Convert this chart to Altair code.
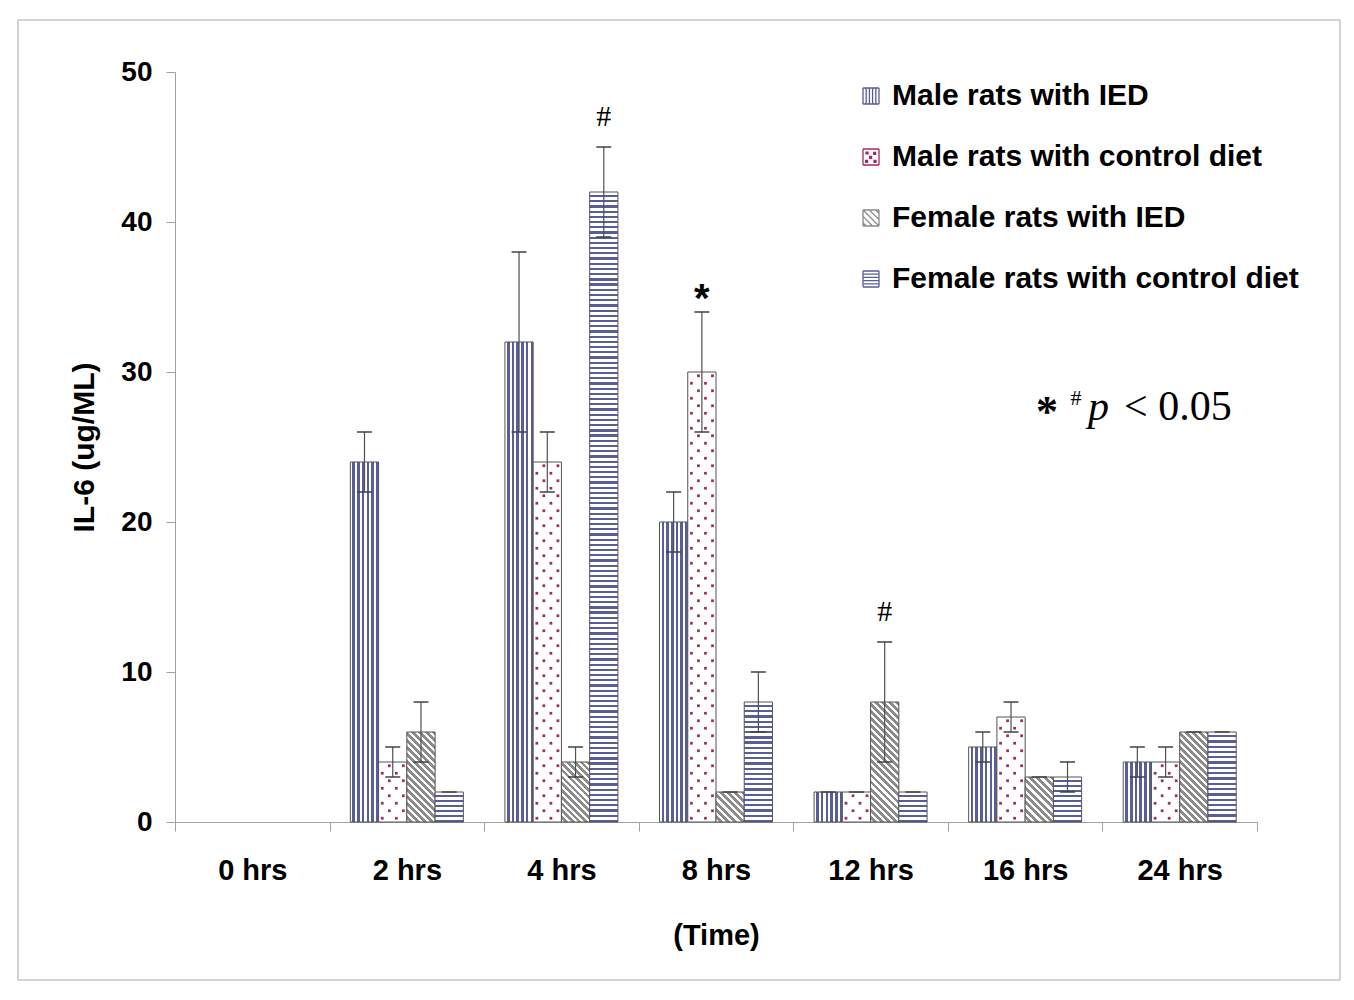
import altair as alt
import pandas as pd

# ---------------- data ----------------
times = ["0 hrs", "2 hrs", "4 hrs", "8 hrs", "12 hrs", "16 hrs", "24 hrs"]
series = ["Male rats with IED", "Male rats with control diet",
          "Female rats with IED", "Female rats with control diet"]

male_ied = [0, 24, 32, 20, 2, 5, 4]
male_ied_err = [0, 2, 6, 2, 0, 1, 1]
male_ctrl = [0, 4, 24, 30, 2, 7, 4]
male_ctrl_err = [0, 1, 2, 4, 0, 1, 1]
female_ied = [0, 6, 4, 2, 8, 3, 6]
female_ied_err = [0, 2, 1, 0, 4, 0, 0]
female_ctrl = [0, 2, 42, 8, 2, 3, 6]
female_ctrl_err = [0, 0, 3, 2, 0, 1, 0]

annot_time = ["4 hrs", "8 hrs", "12 hrs"]
annot_series = ["Female rats with control diet", "Male rats with control diet", "Female rats with IED"]
annot_label = ["#", "*", "#"]

y_ticks = [0, 10, 20, 30, 40, 50]

# ---------------- layout / style ----------------
PLOT_W, PLOT_H, YMAX = 1082, 750, 50
GROUP_FRAC = 0.731                     # share of each time slot covered by the 4 bars
PX_PER_UNIT = PLOT_H / YMAX
STEP = PLOT_W / len(times)
BAR_W = STEP * GROUP_FRAC / len(series)
OFF_PAD = (STEP / BAR_W - len(series)) / 2
SUB_EDGE = 3                           # empty dot columns each side of a group
N_SUB = 4 * len(series) + 2 * SUB_EDGE

BLUE = "#5a5d9c"
GRAY = "#8c8c8c"
DOT = "#a12a62"
WHITE = "#ffffff"
SANS = "Liberation Sans"
SERIF = "Liberation Serif"

vals = [male_ied, male_ctrl, female_ied, female_ctrl]
errs = [male_ied_err, male_ctrl_err, female_ied_err, female_ctrl_err]

rows = []
for si, s in enumerate(series):
    for ti, t in enumerate(times):
        v, e = vals[si][ti], errs[si][ti]
        rows.append(dict(time=t, series=s, value=v, err=e, lo=v - e, hi=v + e,
                         key=f"{si}_{ti}"))
df = pd.DataFrame(rows)


def stripe_grad(n, color, duty, x1, y1, x2, y2):
    stops = [{"offset": 0, "color": WHITE}]
    for i in range(n):
        a = round((i + 1 - duty) / n, 5)
        b = round((i + 1) / n, 5)
        stops += [{"offset": a, "color": WHITE}, {"offset": a, "color": color},
                  {"offset": b, "color": color}, {"offset": b, "color": WHITE}]
    return {"gradient": "linear", "x1": x1, "y1": y1, "x2": x2, "y2": y2, "stops": stops}


def hgrad(v):
    h = v * PX_PER_UNIT
    n = max(1, round(h / 5.2))
    return stripe_grad(n, BLUE, 0.43, 0, 0, 0, 1)


def dgrad(v):
    h = v * PX_PER_UNIT
    w = BAR_W
    s = (w + h) / (w * w + h * h)
    n = max(1, round((w + h) / 7))
    return stripe_grad(n, GRAY, 0.55, 0, 1, round(s * w, 5), round(1 - s * h, 5))


vgrad = stripe_grad(6, BLUE, 0.55, 0, 0, 1, 0)

conds = [{"test": f"datum.series === '{series[0]}'", "value": vgrad}]
for ti in range(len(times)):
    if female_ctrl[ti] > 0:
        conds.append({"test": f"datum.key === '3_{ti}'", "value": hgrad(female_ctrl[ti])})
    if female_ied[ti] > 0:
        conds.append({"test": f"datum.key === '2_{ti}'", "value": dgrad(female_ied[ti])})

# dots pattern for the control-diet male series
ROW = 0.5
dot_rows = []
for ti, t in enumerate(times):
    v = male_ctrl[ti]
    k = 0
    while (k + 1) * ROW <= v + 1e-9:
        cols = [0, 2] if k % 2 == 0 else [1, 3]
        for c in cols:
            dot_rows.append(dict(time=t, sub=SUB_EDGE + 4 + c, dy=(k + 0.5) * ROW))
        k += 1
dots_df = pd.DataFrame(dot_rows)

ann_rows = []
for t, s, lab in zip(annot_time, annot_series, annot_label):
    r = df[(df.time == t) & (df.series == s)].iloc[0]
    ann_rows.append(dict(time=t, series=s, label=lab, hi=r.hi))
ann_df = pd.DataFrame(ann_rows)

# ---------------- encodings ----------------
x_axis = alt.Axis(title="(Time)", labelAngle=0, tickBand="extent", tickSize=9,
                  labelFont=SANS, labelFontWeight="bold", labelFontSize=29, labelColor="black",
                  labelPadding=25, titleFont=SANS, titleFontWeight="bold", titleFontSize=29,
                  titleColor="black", titlePadding=36, domainColor="#a0a0a0",
                  tickColor="#a0a0a0", grid=False)
y_axis = alt.Axis(values=y_ticks, title="IL-6 (ug/ML)", tickSize=9, labelFont=SANS,
                  labelFontWeight="bold", labelFontSize=28, labelColor="black",
                  labelPadding=14, titleFont=SANS, titleFontWeight="bold", titleFontSize=30,
                  titleColor="black", titlePadding=21, domainColor="#a0a0a0",
                  tickColor="#a0a0a0", grid=False)

x_enc = alt.X("time:N", sort=times, axis=x_axis,
              scale=alt.Scale(domain=times, paddingInner=0, paddingOuter=0))
y_scale = alt.Scale(domain=[0, YMAX])
xoff = alt.XOffset("series:N", sort=series,
                   scale=alt.Scale(type="band", domain=series, paddingInner=0, paddingOuter=OFF_PAD))


def Y(field):
    return alt.Y(field, scale=y_scale, axis=y_axis, title="IL-6 (ug/ML)")


border = alt.Chart(pd.DataFrame({"a": [0]})).mark_rect(
    fillOpacity=0, stroke="#a8a8a8", strokeWidth=1).encode(
    x=alt.value(-157), x2=alt.value(1165), y=alt.value(-52), y2=alt.value(908))

bars = alt.Chart(df).transform_filter("datum.value > 0").mark_bar(
    stroke="#555555", strokeWidth=1).encode(
    x=x_enc, xOffset=xoff, y=Y("value:Q"),
    fill={"condition": conds, "value": WHITE})

dots = alt.Chart(dots_df).mark_square(size=7.5, color=DOT, opacity=1).encode(
    x=x_enc,
    xOffset=alt.XOffset("sub:N", scale=alt.Scale(type="band", domain=list(range(N_SUB)),
                                                 paddingInner=0, paddingOuter=0)),
    y=Y("dy:Q"))

err_filter = "datum.value > 0"
rules = alt.Chart(df).transform_filter(err_filter).mark_rule(
    color="#505050", strokeWidth=1.2).encode(
    x=x_enc, xOffset=xoff, y=Y("lo:Q"), y2="hi:Q")
cap_hi = alt.Chart(df).transform_filter(err_filter).mark_tick(
    orient="horizontal", size=15, thickness=1.5, color="#404040", opacity=1).encode(
    x=x_enc, xOffset=xoff, y=Y("hi:Q"))
cap_lo = alt.Chart(df).transform_filter(err_filter + " && datum.err > 0").mark_tick(
    orient="horizontal", size=15, thickness=1.5, color="#404040", opacity=1).encode(
    x=x_enc, xOffset=xoff, y=Y("lo:Q"))

hash_txt = alt.Chart(ann_df).transform_filter("datum.label === '#'").mark_text(
    font=SERIF, fontSize=30, baseline="alphabetic", dy=-21, color="black").encode(
    x=x_enc, xOffset=xoff, y=Y("hi:Q"), text="label:N")
star_txt = alt.Chart(ann_df).transform_filter("datum.label === '*'").mark_text(
    font=SANS, fontWeight="bold", fontSize=40, baseline="alphabetic", dy=0, color="black").encode(
    x=x_enc, xOffset=xoff, y=Y("hi:Q"), text="label:N")

note_df = pd.DataFrame({"a": [0]})
note_star = alt.Chart(note_df).mark_text(font=SERIF, fontWeight="bold", fontSize=44,
                                         align="center", baseline="alphabetic", color="black").encode(
    x=alt.value(872), y=alt.value(354), text=alt.value("*"))
note_hash = alt.Chart(note_df).mark_text(font=SERIF, fontSize=22, align="center",
                                         baseline="alphabetic", color="black").encode(
    x=alt.value(901), y=alt.value(333), text=alt.value("#"))
note_p = alt.Chart(note_df).mark_text(font=SERIF, fontStyle="italic", fontSize=42, align="left",
                                      baseline="alphabetic", color="black").encode(
    x=alt.value(913), y=alt.value(348), text=alt.value("p"))
note_rest = alt.Chart(note_df).mark_text(font=SERIF, fontSize=42, align="left",
                                         baseline="alphabetic", color="black").encode(
    x=alt.value(949), y=alt.value(348), text=alt.value("< 0.05"))

# legend (symbols drawn as pattern paths)
box = "M-1,-1H1M1,-1V1M1,1H-1M-1,1V-1"
sym_v = box + "M-0.6,-1V1M-0.2,-1V1M0.2,-1V1M0.6,-1V1"
sym_h = box + "M-1,-0.6H1M-1,-0.2H1M-1,0.2H1M-1,0.6H1"
sym_d = box + "M-1,-1L1,1M-0.2,-1L1,0.2M-1,-0.2L0.2,1M0.6,-1L1,-0.6M-1,0.6L-0.6,1"
sym_o = box
for (cx, cy) in [(-0.5, -0.5), (0.45, -0.45), (-0.05, 0.05), (-0.55, 0.55), (0.5, 0.55)]:
    sym_o += f"M{cx - 0.12:.2f},{cy - 0.12:.2f}h0.24v0.24h-0.24Z"

leg = alt.Legend(title=None, orient="none", legendX=681, legendY=9, labelFont=SANS,
                 labelFontWeight="bold", labelFontSize=30, labelColor="black",
                 symbolSize=256, symbolStrokeWidth=1.3, rowPadding=31, labelOffset=6,
                 padding=0, symbolOpacity=1, labelLimit=600)
legend_layer = alt.Chart(pd.DataFrame({"series": series})).transform_filter("false").mark_point(
    filled=True, strokeWidth=1.3).encode(
    shape=alt.Shape("series:N", sort=series, legend=leg,
                    scale=alt.Scale(domain=series, range=[sym_v, sym_o, sym_d, sym_h])),
    stroke=alt.Stroke("series:N", sort=series, legend=leg,
                      scale=alt.Scale(domain=series, range=[BLUE, DOT, GRAY, BLUE])),
    fill=alt.Fill("series:N", sort=series, legend=leg,
                  scale=alt.Scale(domain=series, range=[BLUE, DOT, GRAY, BLUE])))

chart = alt.layer(
    border, bars, dots, rules, cap_hi, cap_lo, hash_txt, star_txt,
    note_star, note_hash, note_p, note_rest, legend_layer
).resolve_scale(xOffset="independent").properties(
    width=PLOT_W, height=PLOT_H,
    autosize=alt.AutoSizeParams(type="none"),
    padding={"left": 167, "top": 64, "right": 85, "bottom": 170},
    background="white",
).configure_view(strokeWidth=0)

chart.save("out.html", embed_options={"renderer": "svg", "actions": False})
